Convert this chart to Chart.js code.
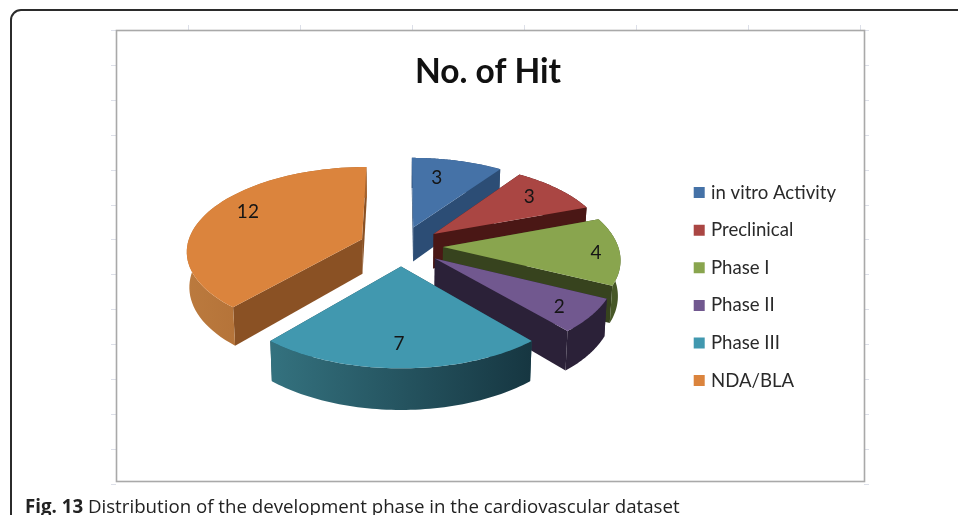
<!DOCTYPE html>
<html>
<head>
<meta charset="utf-8">
<title>No. of Hit</title>
<script src="https://cdn.jsdelivr.net/npm/chart.js@4"></script>
<style>
  html, body { margin: 0; padding: 0; background: #fff; overflow: hidden; }
  #wrap { position: relative; width: 958px; height: 515px; overflow: hidden; }
  #frame { position: absolute; left: 10px; top: 9px; width: 1000px; height: 600px; border: 2px solid #2b2b2b; border-radius: 11px; box-sizing: border-box; }
  #hit { position: absolute; left: 0; top: 0; }
  #caption { position: absolute; left: 25px; top: 493px; font: 18.7px "Open Sans", sans-serif; color: #222; white-space: nowrap; }
</style>
</head>
<body>
<div id="wrap">
  <div id="frame"></div>
  <canvas id="hit" width="958" height="515"></canvas>
  <div id="caption"><b>Fig. 13</b> Distribution of the development phase in the cardiovascular dataset</div>
</div>
<script>
// values
const phases = ['in vitro Activity', 'Preclinical', 'Phase I', 'Phase II', 'Phase III', 'NDA/BLA'];
const hits = [3, 3, 4, 2, 7, 12];

// face colours per slice
const topColors = ['#4572a7', '#aa4643', '#89a54e', '#71588f', '#4198af', '#db843d'];
const cutColors = ['#2c4d75', '#4a1715', '#37431e', '#2b2138', '#1f4a56', '#8a5124'];
const wallLeft = ['#2c4d75', '#4a1715', '#4d5f2b', '#2b2138', '#34727f', '#bb7a3e'];
const wallRight = ['#2c4d75', '#4a1715', '#445425', '#2b2138', '#163641', '#a5622c'];

// back to front
const drawOrder = [5, 0, 1, 2, 3, 4];
const labelShift = [[-11, 2], [0, -2], [19, 3], [8, 6], [-2, 3], [4, -7]];

// 3D look of the pie
const PIE_CX = 401, PIE_CY = 246, PIE_R = 175, TILT = 83, PERSP = 0.128, DEPTH = 35, EXPLODE = 0.24;

function project(u, v, low) {
  const k = 1 / (1 + PERSP * v);
  let x = PIE_CX + PIE_R * u * k;
  let y = PIE_CY - TILT * v * k;
  if (low) {
    y += DEPTH * k;
    x = PIE_CX + (x - PIE_CX) * 0.988;
  }
  return [x, y];
}

function fillPoly(ctx, pts, fill) {
  ctx.beginPath();
  pts.forEach((p, i) => i ? ctx.lineTo(p[0], p[1]) : ctx.moveTo(p[0], p[1]));
  ctx.closePath();
  ctx.fillStyle = fill;
  ctx.fill();
}

const pie3d = {
  id: 'pie3d',
  beforeDraw(chart) {
    // plot box with its small outer ticks
    const ctx = chart.ctx;
    ctx.save();
    ctx.strokeStyle = '#dcdfe8';
    ctx.lineWidth = 1;
    ctx.beginPath();
    for (let i = 0; i <= 13; i++) {
      const y = Math.round(30 + 34.9 * i) + 0.5;
      ctx.moveTo(111, y); ctx.lineTo(116, y);
      ctx.moveTo(864, y); ctx.lineTo(869, y);
    }
    for (let i = 0; i <= 6; i++) {
      const x = Math.round(188 + 112 * i) + 0.5;
      ctx.moveTo(x, 25); ctx.lineTo(x, 30);
    }
    ctx.stroke();
    ctx.strokeStyle = '#a9a9a9';
    ctx.lineWidth = 1.6;
    ctx.strokeRect(116.5, 30.5, 748, 451);
    ctx.restore();
  },
  beforeDatasetsDraw(chart) {
    const ctx = chart.ctx;
    const arcs = chart.getDatasetMeta(0).data;
    drawOrder.forEach(i => {
      const arc = arcs[i];
      const a0 = arc.startAngle + Math.PI / 2;
      const a1 = arc.endAngle + Math.PI / 2;
      const mid = (a0 + a1) / 2;
      const ox = EXPLODE * Math.sin(mid), oy = EXPLODE * Math.cos(mid);
      const rim = [];
      for (let s = 0; s <= 60; s++) {
        const a = a0 + (a1 - a0) * s / 60;
        rim.push([ox + Math.sin(a), oy + Math.cos(a)]);
      }
      const first = rim[0], last = rim[60];
      const up = p => project(p[0], p[1], false);
      const down = p => project(p[0], p[1], true);

      // the two cut faces
      [first, last].forEach(p => {
        fillPoly(ctx, [up([ox, oy]), up(p), down(p), down([ox, oy])], cutColors[i]);
      });
      // curved outer wall
      const xs = rim.map(p => up(p)[0]);
      const grad = ctx.createLinearGradient(Math.min(...xs), 0, Math.max(...xs), 0);
      grad.addColorStop(0, wallLeft[i]);
      grad.addColorStop(1, wallRight[i]);
      fillPoly(ctx, rim.map(up).concat(rim.slice().reverse().map(down)), grad);
      // top face
      fillPoly(ctx, [up([ox, oy])].concat(rim.map(up)), topColors[i]);
    });

    // value labels
    ctx.save();
    ctx.font = '19px Lato, sans-serif';
    ctx.fillStyle = '#151515';
    ctx.textAlign = 'center';
    ctx.textBaseline = 'middle';
    arcs.forEach((arc, i) => {
      const mid = (arc.startAngle + arc.endAngle) / 2 + Math.PI / 2;
      const p = project(Math.sin(mid), Math.cos(mid), false);
      ctx.fillText(hits[i], p[0] + labelShift[i][0], p[1] + labelShift[i][1]);
    });
    ctx.restore();
    return false;
  }
};

new Chart(document.getElementById('hit').getContext('2d'), {
  type: 'pie',
  data: {
    labels: phases,
    // arcs are painted by pie3d, the border only feeds the legend squares
    datasets: [{ data: hits, backgroundColor: topColors, borderColor: topColors, borderWidth: 6 }]
  },
  options: {
    responsive: false,
    animation: false,
    layout: { padding: { left: 130, right: 112, top: 32, bottom: 34 } },
    plugins: {
      tooltip: { enabled: false },
      title: {
        display: true,
        text: 'No. of Hit',
        color: '#111',
        font: { family: 'Lato, sans-serif', size: 33.5, weight: 'bold' },
        padding: { top: 20, bottom: 0 }
      },
      legend: {
        position: 'right',
        fullSize: false,
        labels: {
          boxWidth: 5,
          boxHeight: 5,
          padding: 19,
          color: '#2a2a2a',
          font: { family: 'Lato, sans-serif', size: 18.6 }
        }
      }
    }
  },
  plugins: [pie3d]
});
</script>
</body>
</html>
